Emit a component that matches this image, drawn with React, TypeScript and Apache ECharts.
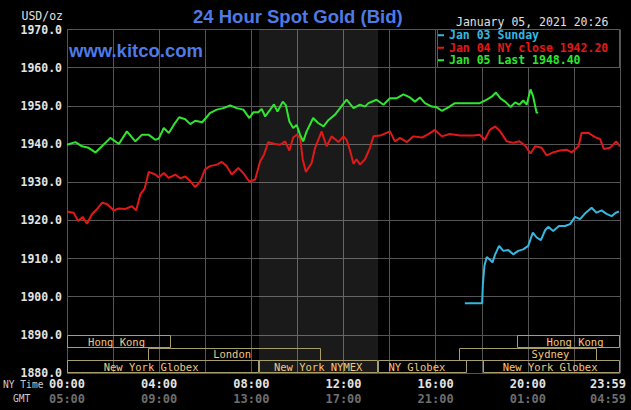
import React, { useEffect, useRef } from "react";
import * as echarts from "echarts";

// ---- data (x = minutes after 00:00 NY time, y = USD/oz) ----
const seriesNames = ["Jan 03 Sunday", "Jan 04 NY close 1942.20", "Jan 05 Last 1948.40"];

const jan03: number[][] = [
  [1036, 1898.3], [1081, 1898.3], [1083, 1903.3], [1087, 1908.1], [1093, 1910.4], [1102, 1909.6],
  [1108, 1909.0], [1115, 1911.1], [1125, 1913.3], [1136, 1912.0], [1149, 1912.2], [1162, 1911.1],
  [1175, 1912.0], [1188, 1912.4], [1201, 1913.3], [1213, 1916.8], [1223, 1915.5], [1234, 1914.8],
  [1245, 1917.4], [1253, 1918.3], [1266, 1917.2], [1281, 1918.5], [1297, 1918.5], [1310, 1919.0],
  [1323, 1920.9], [1336, 1920.3], [1351, 1922.0], [1366, 1923.3], [1379, 1922.0], [1392, 1922.6],
  [1405, 1921.7], [1418, 1921.1], [1429, 1922.0], [1437, 1922.3],
];

const jan04: number[][] = [
  [0, 1922.3], [17, 1922.0], [29, 1919.8], [41, 1920.9], [52, 1919.1], [65, 1921.6], [78, 1922.9],
  [91, 1924.6], [104, 1924.3], [122, 1922.6], [135, 1923.1], [152, 1923.0], [169, 1923.7], [180, 1922.6],
  [191, 1926.8], [202, 1928.3], [213, 1932.7], [230, 1932.0], [239, 1931.3], [252, 1932.4], [265, 1931.1],
  [282, 1932.0], [295, 1931.0], [308, 1931.5], [321, 1930.3], [334, 1928.7], [347, 1930.3], [359, 1933.3],
  [372, 1934.2], [390, 1934.6], [403, 1935.3], [416, 1934.2], [429, 1932.0], [446, 1933.7], [459, 1932.4],
  [475, 1930.1], [490, 1930.7], [503, 1935.5], [513, 1937.2], [524, 1940.5], [542, 1940.0], [555, 1939.8],
  [568, 1940.7], [579, 1938.3], [589, 1941.7], [598, 1942.4], [607, 1941.6], [614, 1935.9], [622, 1932.7],
  [637, 1935.0], [646, 1939.0], [663, 1943.3], [676, 1939.4], [689, 1942.0], [707, 1940.5], [720, 1942.0],
  [728, 1941.1], [737, 1938.3], [746, 1934.8], [754, 1936.0], [763, 1934.6], [776, 1936.0], [789, 1939.0],
  [798, 1942.0], [815, 1942.2], [841, 1943.3], [854, 1940.7], [867, 1941.6], [885, 1940.5], [902, 1942.0],
  [924, 1941.7], [941, 1942.6], [958, 1943.7], [976, 1942.0], [997, 1942.6], [1023, 1942.2], [1058, 1942.2],
  [1075, 1942.4], [1088, 1941.1], [1101, 1943.7], [1115, 1944.6], [1128, 1943.3], [1145, 1940.7],
  [1162, 1940.3], [1178, 1940.7], [1193, 1939.6], [1207, 1937.5], [1219, 1939.4], [1236, 1939.0],
  [1249, 1937.0], [1266, 1937.8], [1284, 1938.3], [1301, 1938.5], [1314, 1937.8], [1332, 1939.4],
  [1340, 1942.9], [1358, 1942.9], [1375, 1941.8], [1388, 1941.3], [1398, 1938.7], [1414, 1939.0],
  [1430, 1940.7], [1440, 1939.4],
];

const jan05: number[][] = [
  [0, 1939.8], [22, 1940.5], [39, 1939.4], [56, 1939.0], [74, 1937.8], [91, 1939.4], [113, 1941.6],
  [135, 1940.0], [156, 1943.3], [178, 1940.7], [195, 1942.4], [213, 1942.4], [230, 1941.1], [239, 1941.4],
  [252, 1944.2], [265, 1942.9], [278, 1945.0], [292, 1947.0], [308, 1946.5], [321, 1945.2], [334, 1946.1],
  [352, 1945.7], [365, 1947.2], [372, 1948.1], [390, 1949.0], [407, 1949.4], [425, 1950.1], [442, 1949.4],
  [459, 1949.0], [475, 1946.8], [485, 1948.3], [498, 1948.3], [507, 1949.2], [516, 1947.2], [529, 1949.0],
  [539, 1950.4], [548, 1948.5], [562, 1951.1], [570, 1950.1], [579, 1945.9], [589, 1944.2], [598, 1945.0],
  [607, 1942.4], [615, 1940.7], [624, 1943.3], [641, 1946.8], [654, 1945.5], [668, 1944.6], [681, 1946.3],
  [698, 1947.7], [711, 1949.4], [728, 1951.6], [746, 1949.4], [763, 1950.3], [776, 1949.8], [785, 1950.7],
  [806, 1951.6], [824, 1950.3], [841, 1952.0], [859, 1952.0], [876, 1953.0], [893, 1952.2], [906, 1951.1],
  [919, 1952.2], [932, 1950.7], [950, 1949.8], [963, 1949.6], [976, 1948.7], [993, 1949.6], [1010, 1950.7],
  [1075, 1950.7], [1093, 1951.6], [1106, 1952.4], [1117, 1953.5], [1128, 1952.0], [1141, 1951.1],
  [1155, 1949.7], [1167, 1950.9], [1178, 1950.3], [1188, 1951.4], [1197, 1950.3], [1207, 1954.3],
  [1214, 1952.4], [1223, 1948.1], [1226, 1948.4],
];

// x-axis tick labels (every 4 hours)
const nyTimeLabels = ["00:00", "04:00", "08:00", "12:00", "16:00", "20:00", "23:59"];
const gmtLabels = ["05:00", "09:00", "13:00", "17:00", "21:00", "01:00", "04:59"];

// NYMEX trading window (shaded), minutes
const nymexWindow = [500, 810];

// market sessions (minutes), row 0..2 from top
const sessionNames = ["Hong Kong", "London", "New York Globex", "New York NYMEX", "NY Globex", "New York Globex", "Hong Kong", "Sydney"];
const sessionStart = [0, 210, 0, 500, 810, 1083, 1173, 1020];
const sessionEnd = [270, 660, 500, 810, 1042, 1440, 1440, 1380];
const sessionRow = [0, 1, 2, 2, 2, 2, 0, 1];
const sessionLabelAt = [129, 430, 219, 654, 911, 1258, 1323, 1259];

const colors = ["#35b8e0", "#e01818", "#2ee62e"];
const MONO = "DejaVu Sans Mono";

export default function App() {
  const ref = useRef<HTMLDivElement>(null);

  useEffect(() => {
    if (!ref.current) return;
    const chart = echarts.init(ref.current, null, { renderer: "svg" });

    const sessionData = sessionStart.map((s, i) => [s, sessionEnd[i], sessionRow[i], sessionLabelAt[i]]);

    const option: any = {
      animation: false,
      backgroundColor: "#000",
      title: [
        {
          text: "24 Hour Spot Gold (Bid)",
          left: 193,
          top: 7,
          padding: 0,
          textStyle: { color: "#4f7ae6", fontFamily: "Liberation Sans", fontWeight: "bold", fontSize: 18.5 },
        },
        {
          text: "www.kitco.com",
          left: 69,
          top: 41,
          padding: 0,
          textStyle: { color: "#4f7ae6", fontFamily: "Liberation Sans", fontWeight: "bold", fontSize: 18.5 },
        },
        {
          text: "January 05, 2021 20:26",
          left: 456,
          top: 16,
          padding: 0,
          textStyle: { color: "#e0e0e0", fontFamily: MONO, fontWeight: "normal", fontSize: 11.5 },
        },
      ],
      graphic: [
        {
          type: "rect",
          z: 3,
          shape: { x: 437.5, y: 29.5, width: 182, height: 38 },
          style: { fill: "#000", stroke: "#5a5a5a", lineWidth: 1 },
        },
        {
          type: "text",
          left: 3,
          top: 379,
          style: { text: "NY Time", fill: "#cccccc", font: `9.6px ${MONO}` },
        },
        {
          type: "text",
          left: 13,
          top: 393,
          style: { text: "GMT", fill: "#cccccc", font: `9.6px ${MONO}` },
        },
      ],
      legend: {
        orient: "vertical",
        left: 438,
        top: 29,
        padding: 0,
        itemGap: 0,
        itemWidth: 6,
        itemHeight: 2,
        icon: "rect",
        selectedMode: false,
        z: 5,
        textStyle: { fontFamily: MONO, fontSize: 11.5, fontWeight: "bold", lineHeight: 12.5 },
        data: seriesNames.map((n, i) => ({ name: n, textStyle: { color: colors[i] } })),
      },
      grid: { left: 67, right: 11, top: 29.5, bottom: 37, containLabel: false, outerBoundsMode: "none" },
      xAxis: {
        type: "value",
        min: 0,
        max: 1440,
        interval: 120,
        axisLine: { show: false },
        axisTick: { show: false },
        splitLine: { show: true, lineStyle: { color: "#555", width: 1 } },
        axisLabel: {
          margin: 4,
          formatter: (v: number) => {
            if (v % 240 !== 0) return "";
            const i = v / 240;
            const last = i === nyTimeLabels.length - 1;
            return last
              ? `{nyL|${nyTimeLabels[i]}}\n{gmL|${gmtLabels[i]}}`
              : `{ny|${nyTimeLabels[i]}}\n{gm|${gmtLabels[i]}}`;
          },
          rich: {
            ny: { color: "#e4e4e4", fontFamily: MONO, fontWeight: "bold", fontSize: 12, lineHeight: 14.5 },
            gm: { color: "#6e6e6e", fontFamily: MONO, fontWeight: "bold", fontSize: 12, lineHeight: 14.5 },
            nyL: { color: "#e4e4e4", fontFamily: MONO, fontWeight: "bold", fontSize: 12, lineHeight: 14.5, padding: [0, 24, 0, 0] },
            gmL: { color: "#6e6e6e", fontFamily: MONO, fontWeight: "bold", fontSize: 12, lineHeight: 14.5, padding: [0, 24, 0, 0] },
          },
        },
      },
      yAxis: {
        type: "value",
        min: 1880,
        max: 1970,
        interval: 10,
        name: "USD/oz",
        nameLocation: "end",
        nameGap: 14,
        nameTextStyle: {
          color: "#e0e0e0",
          fontFamily: MONO,
          fontSize: 11.5,
          align: "right",
          verticalAlign: "middle",
          padding: [0, 4, 0, 0],
        },
        axisLine: { show: false },
        axisTick: { show: false },
        splitLine: { show: true, lineStyle: { color: "#555", width: 1 } },
        axisLabel: {
          margin: 5,
          color: "#e4e4e4",
          fontFamily: MONO,
          fontWeight: "bold",
          fontSize: 11.5,
          formatter: (v: number) => v.toFixed(1),
        },
      },
      series: [
        {
          type: "custom",
          name: "sessions",
          clip: false,
          silent: true,
          z: 1,
          data: sessionData,
          renderItem: (params: any, api: any) => {
            const i = params.dataIndex;
            const s = api.value(0);
            const e = api.value(1);
            const r = api.value(2);
            const l = api.value(3);
            const top = 1890 - (r * 10) / 3;
            const bot = top - 10 / 3;
            const p1 = api.coord([s, top]);
            const p2 = api.coord([e, bot]);
            const pl = api.coord([l, (top + bot) / 2]);
            return {
              type: "group",
              children: [
                {
                  type: "rect",
                  shape: { x: Math.round(p1[0]) + 0.5, y: Math.round(p1[1]) + 0.5, width: Math.round(p2[0] - p1[0]) - 1, height: Math.round(p2[1] - p1[1]) - 1 },
                  style: { fill: "none", stroke: "#a89e6c", lineWidth: 1 },
                },
                {
                  type: "text",
                  style: {
                    text: sessionNames[i],
                    x: pl[0],
                    y: pl[1] + 0.5,
                    align: "center",
                    verticalAlign: "middle",
                    fill: "#f2c77e",
                    font: `10.5px ${MONO}`,
                  },
                },
              ],
            };
          },
          markArea: {
            silent: true,
            itemStyle: { color: "rgba(255,255,255,0.1)" },
            data: [[{ xAxis: nymexWindow[0] }, { xAxis: nymexWindow[1] }]],
          },
        },
        {
          type: "line",
          name: seriesNames[0],
          data: jan03,
          showSymbol: false,
          color: colors[0],
          lineStyle: { width: 2, color: colors[0] },
        },
        {
          type: "line",
          name: seriesNames[1],
          data: jan04,
          showSymbol: false,
          color: colors[1],
          lineStyle: { width: 2, color: colors[1] },
        },
        {
          type: "line",
          name: seriesNames[2],
          data: jan05,
          showSymbol: false,
          color: colors[2],
          lineStyle: { width: 2, color: colors[2] },
        },
      ],
    };

    chart.setOption(option);
    return () => chart.dispose();
  }, []);

  return <div ref={ref} style={{ position: "absolute", left: 0, top: 0, width: 631, height: 410 }} />;
}
